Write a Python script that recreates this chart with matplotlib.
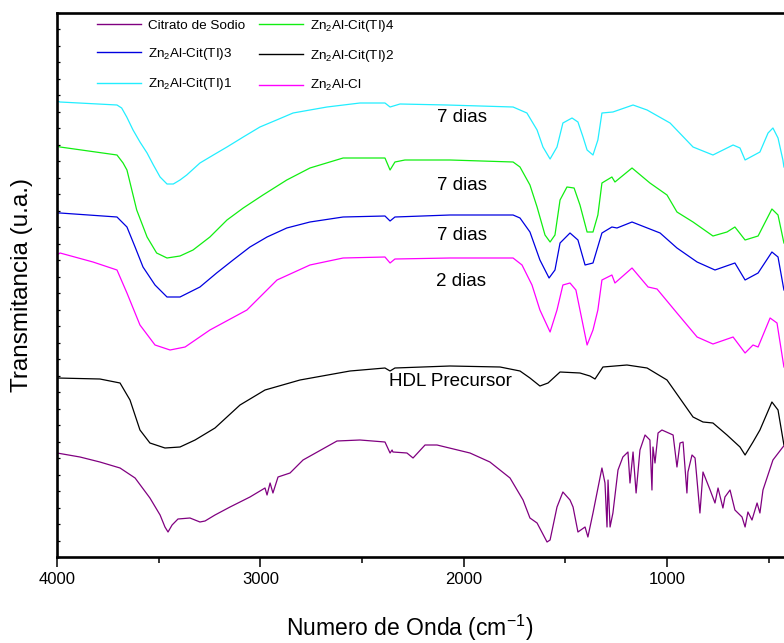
import matplotlib
matplotlib.use("Agg")
import matplotlib.pyplot as plt
import numpy as np

# ---------------- data (wavenumber cm-1, transmittance a.u.) ----------------
cyan_wn = [4000, 3985, 3705, 3682, 3657, 3626, 3592, 3557, 3526, 3493, 3459, 3428, 3395, 3362, 3297,
           3231, 3164, 3084, 3002, 2920, 2839, 2756, 2672, 2510,
           2387, 2362, 2313, 2082, 1757, 1689, 1639, 1610, 1575, 1541, 1512, 1467, 1438, 1413, 1393,
           1364, 1340, 1320, 1266, 1167, 1098, 985, 872, 774, 675, 641, 616, 543, 503, 479, 454, 430, 425]
cyan_t = [456, 455, 452, 449, 440, 427, 415, 404, 392, 380, 373, 373, 377, 382, 394,
          402, 410, 420, 430, 437, 444, 447, 450, 454,
          454, 450, 453, 452, 450, 444, 427, 410, 398, 410, 434, 439, 435, 420, 407,
          402, 417, 444, 445, 452, 447, 434, 410, 402, 412, 409, 397, 405, 424, 429, 419, 397, 390]

green_wn = [4000, 3985, 3705, 3675, 3656, 3608, 3557, 3510, 3459, 3395, 3331, 3248, 3164, 3084, 2987,
            2870, 2756, 2593, 2387, 2362,
            2338, 2289, 2067, 1757, 1723, 1674, 1639, 1600, 1575, 1551, 1526, 1492, 1457, 1428, 1393,
            1364, 1340, 1320, 1271, 1256, 1172, 1084, 1000, 951, 872, 774, 705, 666, 616, 552, 484,
            454, 425]
green_t = [411, 410, 402, 394, 387, 347, 320, 304, 299, 301, 307, 320, 337, 349, 362,
           377, 389, 399, 399, 387,
           395, 397, 397, 395, 390, 372, 350, 322, 315, 322, 357, 370, 369, 352, 325,
           325, 342, 374, 380, 375, 389, 374, 362, 345, 335, 321, 325, 330, 317, 321, 348,
           342, 314]

blue_wn = [4000, 3985, 3705, 3656, 3616, 3577, 3518, 3459, 3395, 3297, 3215, 3134, 3051, 2967, 2870,
           2756, 2593, 2387, 2362, 2338,
           2067, 1757, 1723, 1674, 1625, 1580, 1551, 1526, 1477, 1438, 1403, 1364, 1320, 1271, 1246,
           1172, 1034, 951, 852, 764, 666, 616, 552, 484, 454, 425]
blue_t = [344, 344, 340, 330, 310, 290, 272, 260, 260, 270, 284, 297, 310, 320, 329,
          335, 340, 341, 336, 340,
          342, 342, 339, 325, 297, 279, 287, 314, 324, 317, 292, 294, 324, 330, 329,
          335, 324, 309, 295, 287, 294, 277, 284, 305, 300, 267]

mag_wn = [4000, 3985, 3823, 3705, 3656, 3592, 3518, 3444, 3370, 3248, 3066, 2918, 2756, 2593, 2387,
          2362, 2338, 2067, 1757, 1713, 1664, 1625, 1575, 1541, 1512, 1477, 1448, 1428, 1393, 1364,
          1340, 1320, 1271, 1256, 1172, 1093, 1049, 951, 852, 774, 675, 616, 577, 552, 493, 459, 425]
mag_t = [302, 304, 295, 287, 264, 232, 212, 207, 210, 227, 247, 277, 292, 299, 300,
         294, 298, 299, 299, 292, 272, 247, 225, 247, 272, 274, 267, 247, 212, 227,
         247, 277, 282, 274, 289, 270, 268, 244, 220, 213, 220, 204, 212, 210, 239, 234, 190]

black_wn = [4000, 3789, 3690, 3641, 3592, 3543, 3469, 3395, 3321, 3223, 3100, 2977, 2805, 2559, 2387,
            2362, 2338, 2067, 1821, 1723, 1674, 1625, 1585, 1526, 1428, 1379, 1354, 1315, 1197, 1098,
            1000, 872, 823, 774, 705, 641, 616, 577, 543, 484, 454, 425]
black_t = [179, 178, 174, 157, 127, 114, 109, 110, 117, 129, 152, 167, 177, 186, 189,
           186, 189, 191, 190, 186, 179, 171, 174, 185, 184, 181, 178, 190, 192, 189,
           177, 140, 135, 134, 122, 110, 102, 115, 127, 155, 147, 112]

cit_wn = [4000, 3887, 3789, 3690, 3616, 3543, 3493, 3469, 3454, 3434, 3405, 3346, 3297, 3272, 3223,
          3149, 3051, 2977, 2967, 2952, 2938, 2913, 2854, 2790, 2623, 2510, 2387, 2362, 2352, 2348,
          2279, 2249, 2190, 2131, 1969, 1871, 1772, 1708, 1674, 1639, 1590, 1575, 1541, 1512, 1477,
          1462, 1438, 1403, 1389, 1364, 1320, 1305, 1295, 1290, 1280, 1266, 1241, 1217, 1192, 1182,
          1167, 1152, 1133, 1108, 1084, 1074, 1069, 1059, 1044, 1025, 970, 951, 936, 921, 902,
          897, 877, 862, 838, 823, 788, 764, 749, 725, 715, 690, 666, 631, 616, 602,
          582, 557, 543, 528, 479, 430, 425]
cit_t = [104, 100, 95, 89, 79, 59, 42, 30, 25, 32, 38, 39, 35, 36, 42,
         50, 60, 69, 62, 74, 64, 80, 84, 97, 116, 117, 115, 104, 107, 105,
         104, 99, 112, 112, 104, 95, 79, 57, 39, 34, 15, 17, 50, 65, 57,
         50, 25, 30, 20, 44, 89, 74, 30, 77, 30, 44, 87, 100, 105, 74,
         105, 64, 107, 122, 117, 67, 110, 94, 124, 127, 122, 90, 114, 115, 64,
         85, 102, 99, 44, 85, 67, 54, 69, 49, 60, 67, 47, 40, 30, 45,
         37, 54, 44, 67, 97, 110, 111]

series = [
    ("Citrato de Sodio", cit_wn, cit_t, "#800080"),
    ("Zn$_\\mathregular{2}$Al-Cit(TI)3", blue_wn, blue_t, "#0000e0"),
    ("Zn$_\\mathregular{2}$Al-Cit(TI)1", cyan_wn, cyan_t, "#22eeff"),
    ("Zn$_\\mathregular{2}$Al-Cit(TI)4", green_wn, green_t, "#11ee11"),
    ("Zn$_\\mathregular{2}$Al-Cit(TI)2", black_wn, black_t, "#000000"),
    ("Zn$_\\mathregular{2}$Al-Cl", mag_wn, mag_t, "#ff00ff"),
]

annotations = [("7 dias", 2010, 440), ("7 dias", 2010, 372), ("7 dias", 2010, 322),
               ("2 dias", 2015, 276), ("HDL Precursor", 2067, 176)]

# ---------------- figure ----------------
plt.rcParams['font.family'] = ['Liberation Sans', 'DejaVu Sans']
W, H = 784, 643
fig = plt.figure(figsize=(W / 100, H / 100), dpi=100)
ax = fig.add_axes([57 / W, 1 - 557 / H, (789 - 57) / W, 544.5 / H])

for label, wn, t, c in series:
    ax.plot(wn, t, color=c, lw=0.9, label=label)

for txt, x, y in annotations:
    ax.text(x, y, txt, ha='center', va='center', fontsize=13.5)

ax.set_xlim(4000, 400)
ax.set_ylim(0, 544.5)
ax.set_xticks([4000, 3000, 2000, 1000])
ax.set_xticks([3500, 2500, 1500, 500], minor=True)
ax.set_yticks(np.arange(0, 545, 16.5))
ax.set_yticklabels([])

for lab in ax.get_xticklabels():
    lab.set_fontsize(12)
ax.tick_params(axis='x', which='major', direction='out', length=7, width=1.1, pad=4)
ax.tick_params(axis='x', which='minor', direction='out', length=4.3, width=1.1)
ax.tick_params(axis='y', which='major', direction='in', length=2, width=0.9)
ax.tick_params(top=False, right=False)
for s in ax.spines.values():
    s.set_linewidth(1.9)
ax.spines['right'].set_visible(False)

ax.set_xlabel("Numero de Onda (cm$^{\\mathregular{-1}}$)", fontsize=16.5)
ax.xaxis.set_label_coords((410 - 57) / 732, -(613 - 557) / 544.5)
ax.set_ylabel("Transmitancia (u.a.)", fontsize=17.5)
ax.yaxis.label.set_va('center')
ax.yaxis.set_label_coords((22 - 57) / 732, 0.5)

leg = ax.legend(loc='upper left', bbox_to_anchor=(97 / W, 1 - 18 / H), bbox_transform=fig.transFigure,
                ncol=2, frameon=False, fontsize=9.7, borderpad=0, borderaxespad=0,
                handlelength=3.3, handletextpad=0.5, columnspacing=1.0, labelspacing=1.05)
for h in leg.get_lines():
    h.set_linewidth(1.0)

fig.savefig("out.png", dpi=100)
